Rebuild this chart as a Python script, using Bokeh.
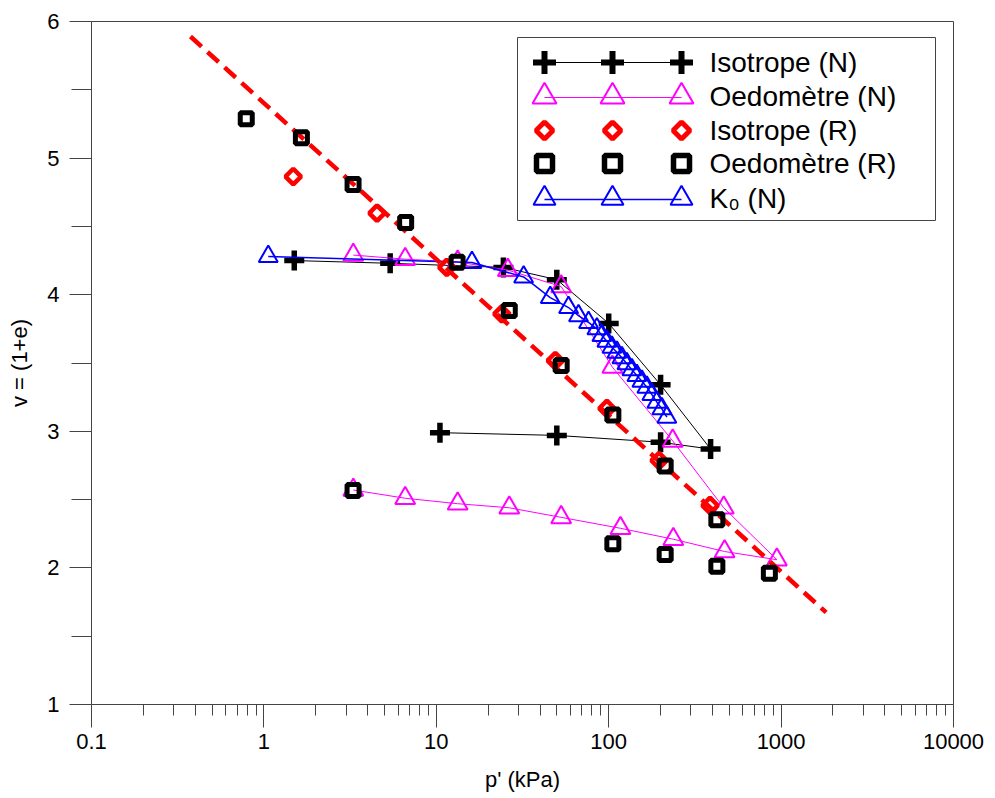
import math
from bokeh.plotting import figure
from bokeh.models import Range1d, LinearScale, FixedTicker, CustomJSTickFormatter
from bokeh.core.properties import value
from bokeh.embed import file_html
from bokeh.resources import INLINE

# ---------------- data ----------------
# Isotrope (N): loading then unloading
iso_n_p = [1.5, 5.4, 24.5, 50, 100, 200, 390, 200, 50, 10.5]
iso_n_v = [4.25, 4.23, 4.20, 4.11, 3.79, 3.34, 2.87, 2.92, 2.97, 2.99]

# Oedometre (N): loading then unloading
oed_n_p = [3.3, 6.6, 13.3, 26, 53, 105, 235, 465, 945, 470, 237, 117, 53, 26.5, 13.3, 6.6, 3.3]
oed_n_v = [4.29, 4.26, 4.24, 4.18, 4.06, 3.47, 2.93, 2.44, 2.06, 2.12, 2.21, 2.29, 2.37, 2.44, 2.47, 2.51, 2.57]

# Isotrope (R)
iso_r_p = [1.48, 4.53, 11.5, 24.0, 49.0, 97.6, 196, 387]
iso_r_v = [4.865, 4.597, 4.20, 3.86, 3.518, 3.167, 2.786, 2.457]

# Oedometre (R)
oed_r_p = [0.79, 1.65, 3.29, 6.64, 13.2, 26.5, 53.0, 105.7, 212.6, 424, 855, 424, 212.6, 105.7, 3.29]
oed_r_v = [5.288, 5.149, 4.807, 4.529, 4.238, 3.884, 3.482, 3.119, 2.746, 2.352, 1.961, 2.012, 2.098, 2.176, 2.567]

# K0 (N)
k0_p = [1.06, 16.1, 32.1, 45.8, 58.5, 66.8, 76.4, 85.4, 91.3, 97.6, 104.4, 111.6, 119.3,
        127.5, 136.3, 145.7, 155.8, 166.5, 178.0, 190.3, 203.4, 217.5]
k0_v = [4.28, 4.236, 4.13, 3.979, 3.906, 3.846, 3.797, 3.750, 3.701, 3.660, 3.616, 3.579, 3.538,
        3.494, 3.450, 3.408, 3.367, 3.323, 3.269, 3.213, 3.165, 3.103]

# red dashed reference line
ncl_p = [0.375, 1824]
ncl_v = [5.89, 1.674]

x_ticks = [0.1, 1, 10, 100, 1000, 10000]
y_ticks = [1, 2, 3, 4, 5, 6]
y_minor = [1.5, 2.5, 3.5, 4.5, 5.5]
x_minor = [d * k for d in [0.1, 1, 10, 100, 1000] for k in range(2, 10)]

legend_labels = ["Isotrope (N)", "Oedomètre (N)", "Isotrope (R)", "Oedomètre (R)", "K\u2080 (N)"]

# ---------------- layout / style ----------------
FONT = "Liberation Sans"
FRAME_W, FRAME_H = 862, 683
AX = "#444444"

p = figure(width=987, height=796, x_axis_type="log",
           x_range=Range1d(0.1, 10000), y_range=Range1d(1, 6),
           output_backend="svg", toolbar_location=None,
           min_border_left=91, min_border_right=34, min_border_top=21, min_border_bottom=92)
p.xgrid.visible = False
p.ygrid.visible = False
p.outline_line_color = AX
p.outline_line_width = 1
p.background_fill_color = "white"
p.border_fill_color = "white"

xa = p.xaxis[0]
ya = p.yaxis[0]
xa.ticker = FixedTicker(ticks=x_ticks, minor_ticks=x_minor)
xa.formatter = CustomJSTickFormatter(code="return tick.toString();")
ya.ticker = FixedTicker(ticks=y_ticks, minor_ticks=y_minor)
xa.major_tick_out, xa.major_tick_in = 23, 0
xa.minor_tick_out, xa.minor_tick_in = 11, 0
ya.major_tick_out, ya.major_tick_in = 22, 0
ya.minor_tick_out, ya.minor_tick_in = 20, 0
for a in (xa, ya):
    a.axis_line_color = AX
    a.major_tick_line_color = AX
    a.minor_tick_line_color = AX
    a.major_label_text_font = FONT
    a.major_label_text_font_size = "22px"
    a.major_label_text_color = "black"
    a.axis_label_text_font = FONT
    a.axis_label_text_font_size = "22px"
    a.axis_label_text_font_style = "normal"
    a.axis_label_text_color = "black"
xa.axis_label = "p' (kPa)"
ya.axis_label = "v = (1+e)"
xa.major_label_standoff = 6
ya.major_label_standoff = 10
xa.axis_label_standoff = 15
ya.axis_label_standoff = 12

MAG = "#FF00FF"
BLUE = "#0000FF"
RED = "#FF0000"

# Isotrope (N)
p.line(iso_n_p, iso_n_v, line_color="black", line_width=1)
p.scatter(iso_n_p, iso_n_v, marker="cross", size=20, line_color="black", line_width=5.5)
# Oedometre (N)
p.line(oed_n_p, oed_n_v, line_color=MAG, line_width=1)
p.scatter(oed_n_p, oed_n_v, marker="triangle", size=20, line_color=MAG, fill_color=None, line_width=2)
# K0 (N)
p.line(k0_p, k0_v, line_color=BLUE, line_width=1.5)
p.scatter(k0_p, k0_v, marker="triangle", size=19, line_color=BLUE, fill_color=None, line_width=2)
# dashed line
p.line(ncl_p, ncl_v, line_color=RED, line_width=4.5, line_dash="15 8")
# Isotrope (R)
p.scatter(iso_r_p, iso_r_v, marker="square", angle=math.pi / 4, size=11, line_color=RED,
          fill_color=None, line_width=4.5)
# Oedometre (R)
p.scatter(oed_r_p, oed_r_v, marker="square", size=12, line_color="black", fill_color=None, line_width=5)

# ---------------- legend (in frame pixel space) ----------------
p.extra_x_ranges = {"lx": Range1d(0, FRAME_W)}
p.extra_y_ranges = {"ly": Range1d(FRAME_H, 0)}
p.extra_x_scales = {"lx": LinearScale()}
p.extra_y_scales = {"ly": LinearScale()}
L = dict(x_range_name="lx", y_range_name="ly")

box_l, box_r, box_t, box_b = 426, 844, 16, 199
sample_x = [453, 521, 590]
row_y = [41, 75, 109, 142, 177]
text_x = 618

p.quad(left=[box_l], right=[box_r], top=[box_t], bottom=[box_b], fill_color="white",
       line_color=AX, line_width=1, **L)

p.line(sample_x, [row_y[0]] * 3, line_color="black", line_width=1, **L)
p.scatter(sample_x, [row_y[0]] * 3, marker="cross", size=23, line_color="black", line_width=6, **L)
p.line(sample_x, [row_y[1] + 1] * 3, line_color=MAG, line_width=1, **L)
p.scatter(sample_x, [row_y[1]] * 3, marker="triangle", size=24, line_color=MAG, fill_color=None,
          line_width=2, **L)
p.scatter(sample_x, [row_y[2]] * 3, marker="square", angle=math.pi / 4, size=12, line_color=RED,
          fill_color=None, line_width=5, **L)
p.scatter(sample_x, [row_y[3]] * 3, marker="square", size=16, line_color="black", fill_color=None,
          line_width=5.5, **L)
p.line(sample_x, [row_y[4] + 1] * 3, line_color=BLUE, line_width=1.5, **L)
p.scatter(sample_x, [row_y[4]] * 3, marker="triangle", size=22, line_color=BLUE, fill_color=None,
          line_width=2, **L)

p.text(x=[text_x] * 5, y=row_y, text=legend_labels, text_baseline="middle", text_align="left",
       text_font=value(FONT), text_font_size="28px", text_color="black", **L)

open("out.html", "w").write(file_html(p, INLINE))
